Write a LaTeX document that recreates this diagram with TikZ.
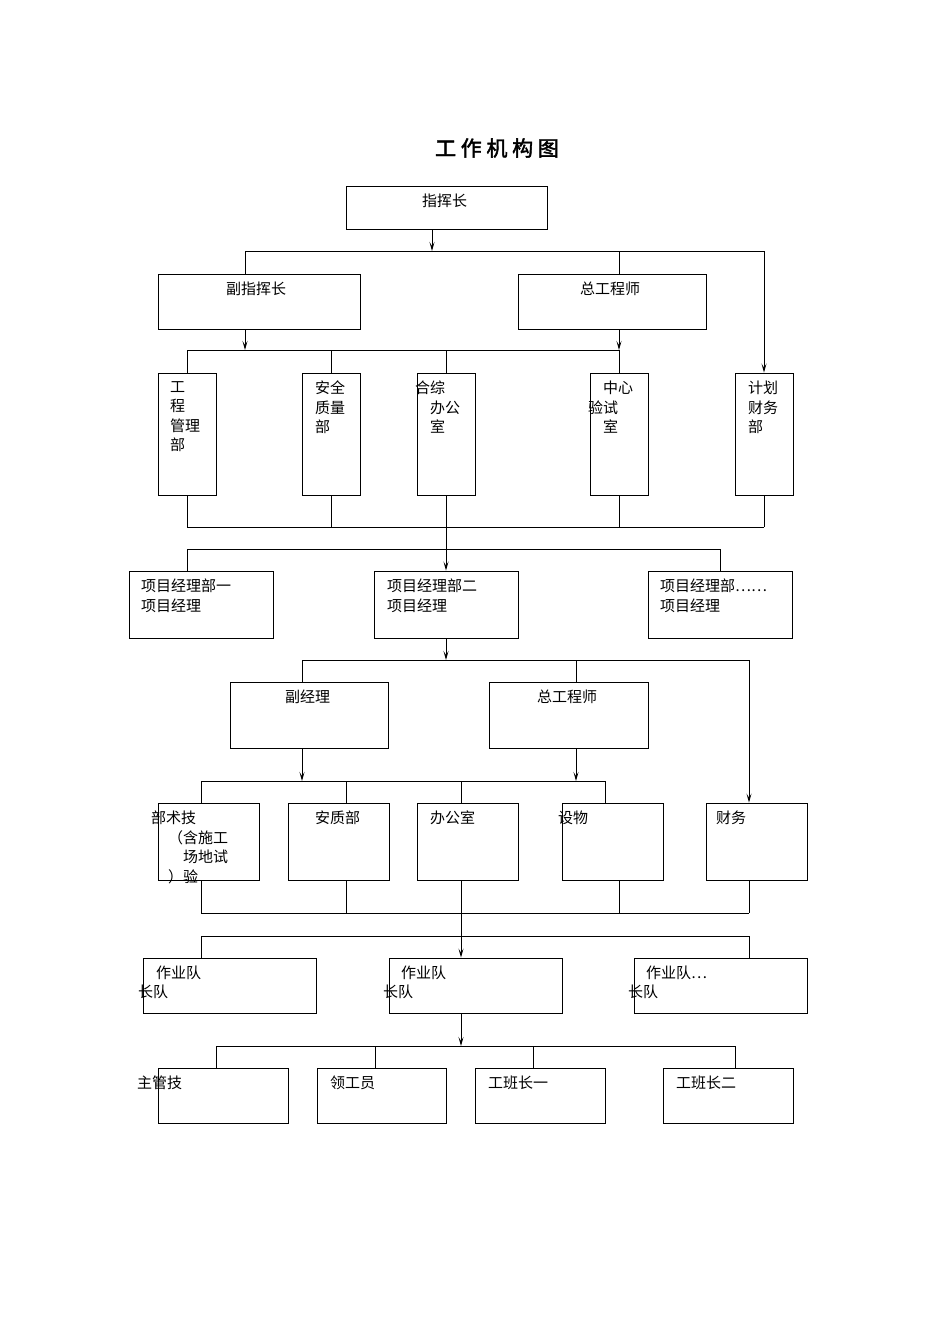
\documentclass[tikz,border=0pt]{standalone}
\usepackage{fontspec}
\newfontfamily\cjk{Noto Sans CJK SC}
\newfontfamily\cjkb[FakeBold=2]{Noto Sans CJK SC}
\usetikzlibrary{fit,arrows.meta}
\begin{document}
\begin{tikzpicture}[x=1pt,y=-1pt,
  box/.style={draw,line width=0.9pt,inner sep=0pt},
  txt/.style={anchor=north west,inner sep=0pt,font=\cjk\fontsize{15}{19.5}\selectfont,align=left},
  ln/.style={line width=0.9pt},
  arr/.style={line width=0.9pt,-{Stealth[length=9pt,width=5pt,inset=4pt]}}]
\useasboundingbox (0,0) rectangle (950,1344);
\node[font=\cjkb\fontsize{21}{24}\selectfont] (title) at (497,148) {工 作 机 构 图};
% boxes
\node[box,fit={(346,186)(547,229)}] (zhz) {};
\node[box,fit={(158,274)(360,329)}] (fzhz) {};
\node[box,fit={(518,274)(706,329)}] (zgcs) {};
\node[box,fit={(158,373)(216,495)}] (b1) {};
\node[box,fit={(302,373)(360,495)}] (b2) {};
\node[box,fit={(417,373)(475,495)}] (b3) {};
\node[box,fit={(590,373)(648,495)}] (b4) {};
\node[box,fit={(735,373)(793,495)}] (b5) {};
\node[box,fit={(129,571)(273,638)}] (p1) {};
\node[box,fit={(374,571)(518,638)}] (p2) {};
\node[box,fit={(648,571)(792,638)}] (p3) {};
\node[box,fit={(230,682)(388,748)}] (fjl) {};
\node[box,fit={(489,682)(648,748)}] (zg2) {};
\node[box,fit={(158,803)(259,880)}] (c1) {};
\node[box,fit={(288,803)(389,880)}] (c2) {};
\node[box,fit={(417,803)(518,880)}] (c3) {};
\node[box,fit={(562,803)(663,880)}] (c4) {};
\node[box,fit={(706,803)(807,880)}] (c5) {};
\node[box,fit={(143,958)(316,1013)}] (d1) {};
\node[box,fit={(389,958)(562,1013)}] (d2) {};
\node[box,fit={(634,958)(807,1013)}] (d3) {};
\node[box,fit={(158,1068)(288,1123)}] (e1) {};
\node[box,fit={(317,1068)(446,1123)}] (e2) {};
\node[box,fit={(475,1068)(605,1123)}] (e3) {};
\node[box,fit={(663,1068)(793,1123)}] (e4) {};
% texts
\node[txt] (tz) at (422,194) {指挥长};
\node[txt] (tf) at (226,282) {副指挥长};
\node[txt] (tg) at (580,282) {总工程师};
\node[txt] (t1) at (170,381) {工\\程\\管理\\部};
\node[txt] (t2) at (315,381) {安全\\质量\\部};
\node[txt] (t3) at (415,381) {合综\\\hspace*{15pt}办公\\\hspace*{15pt}室};
\node[txt] (t4) at (588,381) {\hspace*{15pt}中心\\验试\\\hspace*{15pt}室};
\node[txt] (t5) at (748,381) {计划\\财务\\部};
\node[txt] (tp1) at (141,579) {项目经理部一\\项目经理};
\node[txt] (tp2) at (387,579) {项目经理部二\\项目经理};
\node[txt] (tp3) at (660,579) {项目经理部……\\项目经理};
\node[txt] (tfj) at (285,690) {副经理};
\node[txt] (tzg) at (537,690) {总工程师};
\node[txt] (tc1) at (151,811) {部术技\\\hspace*{17pt}（含施工\\\hspace*{32pt}场地试\\\hspace*{17pt}）验};
\node[txt] (tc2) at (315,811) {安质部};
\node[txt] (tc3) at (430,811) {办公室};
\node[txt] (tc4) at (558,811) {设物};
\node[txt] (tc5) at (716,811) {财务};
\node[txt] (td1) at (156,966) {作业队\\[-1pt]\hspace*{-18pt}长队};
\node[txt] (td2) at (401,966) {作业队\\[-1pt]\hspace*{-18pt}长队};
\node[txt] (td3) at (646,966) {作业队…\\[-1pt]\hspace*{-18pt}长队};
\node[txt] (te1) at (137,1076) {主管技};
\node[txt] (te2) at (330,1076) {领工员};
\node[txt] (te3) at (488,1076) {工班长一};
\node[txt] (te4) at (676,1076) {工班长二};
% connectors level 1
\draw[arr] (zhz.south -| 432,0) -- (432,251);
\draw[ln] (245,251) -- (764,251);
\draw[ln] (245,251) -- (fzhz.north -| 245,0);
\draw[ln] (619,251) -- (zgcs.north -| 619,0);
\draw[arr] (764,251) -- (b5.north -| 764,0);
\draw[arr] (fzhz.south -| 245,0) -- (245,350);
\draw[arr] (zgcs.south -| 619,0) -- (619,350);
\draw[ln] (187,350) -- (619,350);
\foreach \x/\n in {187/b1,331/b2,446/b3,619/b4} \draw[ln] (\x,350) -- (\n.north -| \x,0);
\foreach \x/\n in {187/b1,331/b2,446/b3,619/b4,764/b5} \draw[ln] (\n.south -| \x,0) -- (\x,527);
\draw[ln] (187,527) -- (764,527);
\draw[arr] (446,527) -- (p2.north -| 446,0);
\draw[ln] (187,549) -- (720,549);
\draw[ln] (187,549) -- (p1.north -| 187,0);
\draw[ln] (720,549) -- (p3.north -| 720,0);
% level 2
\draw[arr] (p2.south -| 446,0) -- (446,660);
\draw[ln] (302,660) -- (749,660);
\draw[ln] (302,660) -- (fjl.north -| 302,0);
\draw[ln] (576,660) -- (zg2.north -| 576,0);
\draw[arr] (749,660) -- (c5.north -| 749,0);
\draw[arr] (fjl.south -| 302,0) -- (302,781);
\draw[arr] (zg2.south -| 576,0) -- (576,781);
\draw[ln] (201,781) -- (605,781);
\foreach \x/\n in {201/c1,346/c2,461/c3,605/c4} \draw[ln] (\x,781) -- (\n.north -| \x,0);
\foreach \x/\n in {201/c1,346/c2,461/c3,619/c4,749/c5} \draw[ln] (\n.south -| \x,0) -- (\x,913);
\draw[ln] (201,913) -- (749,913);
\draw[arr] (461,913) -- (d2.north -| 461,0);
\draw[ln] (201,936) -- (749,936);
\draw[ln] (201,936) -- (d1.north -| 201,0);
\draw[ln] (749,936) -- (d3.north -| 749,0);
% level 3
\draw[arr] (d2.south -| 461,0) -- (461,1046);
\draw[ln] (216,1046) -- (735,1046);
\foreach \x/\n in {216/e1,375/e2,533/e3,735/e4} \draw[ln] (\x,1046) -- (\n.north -| \x,0);
\end{tikzpicture}
\end{document}
